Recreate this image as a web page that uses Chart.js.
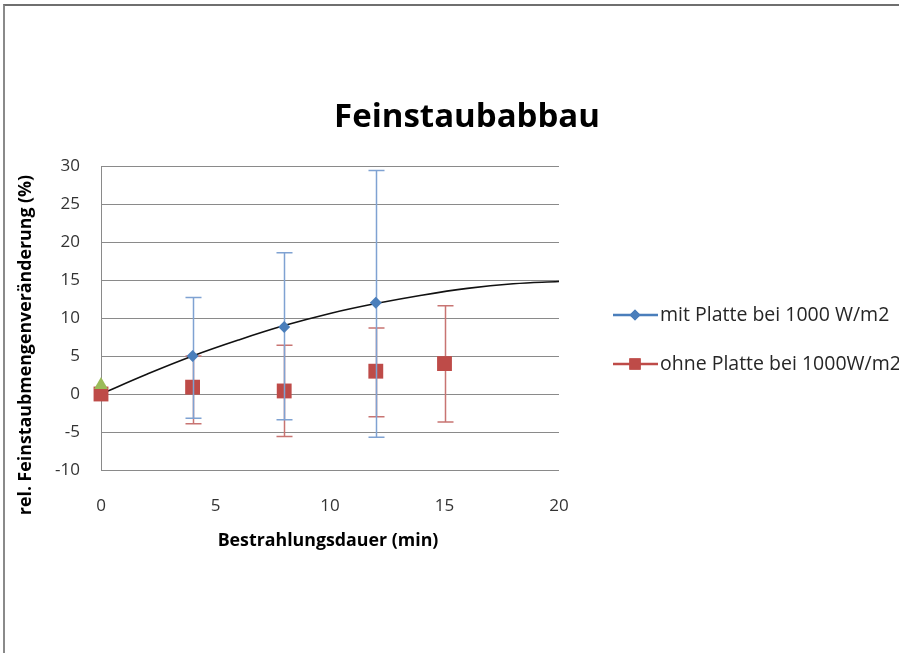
<!DOCTYPE html>
<html>
<head>
<meta charset="utf-8">
<script src="https://cdn.jsdelivr.net/npm/chart.js@4.4.0/dist/chart.umd.min.js"></script>
<style>
  html, body { margin: 0; padding: 0; background: #fff; overflow: hidden; }
  #wrap { position: relative; width: 899px; height: 653px; }
  #frame { position: absolute; left: 3px; top: 4px; width: 920px; height: 680px;
           border-top: 2px solid #6f6f6f; border-left: 2px solid #8a8a8a; pointer-events: none; }
</style>
</head>
<body>
<div id="wrap">
  <canvas id="c" width="899" height="653"></canvas>
  <div id="frame"></div>
</div>
<script>
// texts
const chartTitle = 'Feinstaubabbau';
const xTitle = 'Bestrahlungsdauer (min)';
const yTitle = 'rel. Feinstaubmengenveränderung (%)';

// tick labels
const xTicks = [0, 5, 10, 15, 20];
const yTicks = [-10, -5, 0, 5, 10, 15, 20, 25, 30];

// series: mit Platte
const mitLabel = 'mit Platte bei 1000 W/m2';
const mitX = [4, 8, 12];
const mitY = [5, 8.8, 12];
const mitErrPlus = [7.7, 9.8, 17.4];
const mitErrMinus = [8.2, 12.2, 17.7];

// series: ohne Platte
const ohneLabel = 'ohne Platte bei 1000W/m2';
const ohneX = [0, 4, 8, 12, 15];
const ohneY = [0, 0.9, 0.4, 3.0, 4.0];
const ohneErrPlus = [0, 4.1, 6.0, 5.7, 7.6];
const ohneErrMinus = [0, 4.8, 6.0, 6.0, 7.7];

// start point (green triangle)
const startX = [0];
const startY = [1.2];

// trend line
const trendX = [0, 2, 4, 6, 8, 10, 12, 14, 16, 18, 20];
const trendY = [0, 2.6, 5.0, 7.1, 9.0, 10.6, 11.9, 13.0, 13.9, 14.5, 14.8];

const blue = '#4a7ebb';
const red = '#be4b48';
const green = '#9bbb59';
const font = '"Open Sans", sans-serif';

const pts = (xs, ys) => xs.map((x, i) => ({ x: x, y: ys[i] }));

const errorBars = {
  id: 'errorBars',
  beforeDatasetDraw(chart, args) {
    const ds = chart.data.datasets[args.index];
    if (!ds.errPlus) return;
    const xs = chart.scales.x, ys = chart.scales.y;
    const ctx = chart.ctx;
    ctx.save();
    ctx.strokeStyle = ds.errColor;
    ctx.lineWidth = 1.5;
    ds.data.forEach((p, i) => {
      const up = ds.errPlus[i], dn = ds.errMinus[i];
      if (!up && !dn) return;
      const px = Math.round(xs.getPixelForValue(p.x)) + 0.5;
      const y1 = ys.getPixelForValue(p.y + up);
      const y2 = ys.getPixelForValue(p.y - dn);
      ctx.beginPath();
      ctx.moveTo(px, y1); ctx.lineTo(px, y2);
      ctx.moveTo(px - 8, y1); ctx.lineTo(px + 8, y1);
      ctx.moveTo(px - 8, y2); ctx.lineTo(px + 8, y2);
      ctx.stroke();
    });
    ctx.restore();
  }
};

// chart title, axis titles and the legend on the right
const texts = {
  id: 'texts',
  afterDraw(chart) {
    const ctx = chart.ctx;
    ctx.save();
    ctx.fillStyle = '#000';
    ctx.textAlign = 'center';
    ctx.textBaseline = 'alphabetic';
    ctx.font = 'bold 33px ' + font;
    ctx.fillText(chartTitle, 467, 127);
    ctx.font = 'bold 17.8px ' + font;
    ctx.fillText(xTitle, 328, 546);
    ctx.translate(26, 345);
    ctx.rotate(-Math.PI / 2);
    ctx.textBaseline = 'middle';
    ctx.fillText(yTitle, 0, 0);
    ctx.restore();

    const items = [
      { text: mitLabel, color: blue, style: 'rectRot', r: 5.5, y: 315 },
      { text: ohneLabel, color: red, style: 'rect', r: 8, y: 364 }
    ];
    ctx.save();
    items.forEach(it => {
      ctx.strokeStyle = it.color;
      ctx.lineWidth = 2.5;
      ctx.beginPath();
      ctx.moveTo(613, it.y); ctx.lineTo(658, it.y);
      ctx.stroke();
      ctx.fillStyle = it.color;
      Chart.helpers.drawPoint(ctx, { pointStyle: it.style, radius: it.r, borderWidth: 0 }, 635, it.y);
      ctx.fill();
      ctx.fillStyle = '#262626';
      ctx.font = '19.5px ' + font;
      ctx.textAlign = 'left';
      ctx.textBaseline = 'middle';
      ctx.fillText(it.text, 660, it.y);
    });
    ctx.restore();
  }
};

new Chart(document.getElementById('c'), {
  type: 'scatter',
  data: {
    datasets: [
      {
        label: 'Start',
        data: pts(startX, startY),
        pointStyle: 'triangle',
        pointRadius: 8,
        backgroundColor: green,
        borderColor: green,
        borderWidth: 0,
        clip: false
      },
      {
        label: mitLabel,
        data: pts(mitX, mitY),
        pointStyle: 'rectRot',
        pointRadius: 6,
        backgroundColor: blue,
        borderColor: blue,
        borderWidth: 0,
        clip: false,
        errPlus: mitErrPlus,
        errMinus: mitErrMinus,
        errColor: '#7fa2d2'
      },
      {
        label: ohneLabel,
        data: pts(ohneX, ohneY),
        pointStyle: 'rect',
        pointRadius: 10.5,
        backgroundColor: red,
        borderColor: red,
        borderWidth: 0,
        clip: false,
        errPlus: ohneErrPlus,
        errMinus: ohneErrMinus,
        errColor: '#c87472'
      },
      {
        label: 'Trend',
        type: 'line',
        data: pts(trendX, trendY),
        borderColor: '#111',
        borderWidth: 1.6,
        pointRadius: 0,
        tension: 0.4,
        fill: false
      }
    ]
  },
  options: {
    responsive: false,
    animation: false,
    events: [],
    layout: { padding: { left: 0, right: 340, top: 166, bottom: 123 } },
    plugins: {
      legend: { display: false },
      tooltip: { enabled: false },
      title: { display: false }
    },
    scales: {
      x: {
        type: 'linear',
        min: 0, max: 20,
        afterFit(s) { s.height = 60; },
        afterBuildTicks(s) { s.ticks = xTicks.map(v => ({ value: v })); },
        grid: { display: false, drawTicks: false },
        border: { display: false },
        ticks: { color: '#333', padding: 26, font: { family: font, size: 17 } }
      },
      y: {
        min: -10, max: 30,
        afterFit(s) { s.width = 101; },
        afterBuildTicks(s) { s.ticks = yTicks.map(v => ({ value: v })); },
        grid: { color: '#8a8a8a', lineWidth: 1, drawTicks: false },
        border: { display: true, color: '#8a8a8a', width: 1 },
        ticks: { color: '#333', padding: 21, font: { family: font, size: 17 } }
      }
    }
  },
  plugins: [errorBars, texts]
});
</script>
</body>
</html>
